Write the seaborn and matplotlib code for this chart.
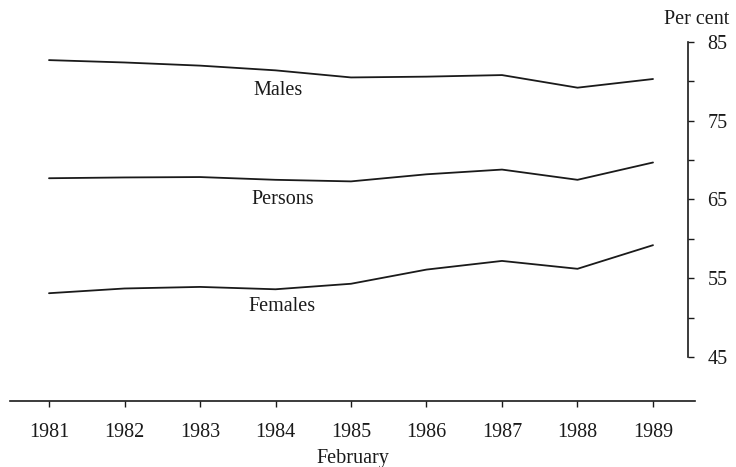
import matplotlib
matplotlib.use("Agg")
import matplotlib.pyplot as plt
import seaborn as sns
import pandas as pd

years = [1981, 1982, 1983, 1984, 1985, 1986, 1987, 1988, 1989]
males = [82.7, 82.4, 82.0, 81.4, 80.5, 80.6, 80.8, 79.2, 80.3]
persons = [67.7, 67.8, 67.85, 67.5, 67.3, 68.2, 68.8, 67.5, 69.7]
females = [53.1, 53.7, 53.9, 53.6, 54.3, 56.1, 57.2, 56.2, 59.2]
series_names = ["Males", "Persons", "Females"]
y_ticks_major = [45, 55, 65, 75, 85]
y_ticks_minor = [50, 60, 70, 80]

df = pd.DataFrame({
    "year": years * 3,
    "value": males + persons + females,
    "series": sum([[n] * len(years) for n in series_names], []),
})

sns.set_theme(style="white")
plt.rcParams["font.family"] = ["Liberation Serif", "DejaVu Serif"]

ink = "#1a1a1a"
fig = plt.figure(figsize=(7.36, 4.67), dpi=100)
ax = fig.add_axes([10 / 736, 66 / 467, 685 / 736, 401 / 467])

sns.lineplot(data=df, x="year", y="value", hue="series",
             palette={n: ink for n in series_names},
             linewidth=1.3, legend=False, ax=ax)

px = 75.5
py = 7.875
ax.set_xlim(1981 - 39 / px, 1989 + 42 / px)
ax.set_ylim(85 - (401 - 42) / py, 85 + 42 / py)

for s in ["top", "left"]:
    ax.spines[s].set_visible(False)
for s in ["bottom", "right"]:
    ax.spines[s].set_color(ink)
    ax.spines[s].set_linewidth(1.2)
ax.spines["right"].set_position(("axes", (688 - 10) / 685))
ax.spines["right"].set_bounds(45, 85)

ax.set_xticks(years)
ax.set_xticklabels([str(y) for y in years], fontsize=14.5, color=ink)
ax.tick_params(axis="x", direction="out", length=4, width=1, color=ink,
               pad=12, bottom=True)

ax.yaxis.tick_right()
ax.set_yticks(y_ticks_major)
ax.set_yticks(y_ticks_minor, minor=True)
ax.set_yticklabels([str(v) for v in y_ticks_major], fontsize=14.5, color=ink)
ax.tick_params(axis="y", which="both", direction="out", length=4, width=1,
               color=ink, pad=10, right=True, left=False)

ax.set_xlabel("February", fontsize=14.5, color=ink, labelpad=5)
ax.set_ylabel("")

ax.text(1984.03, 78.9, "Males", fontsize=14.5, ha="center", va="center", color=ink)
ax.text(1984.09, 64.94, "Persons", fontsize=14.5, ha="center", va="center", color=ink)
ax.text(1984.09, 51.35, "Females", fontsize=14.5, ha="center", va="center", color=ink)

fig.text(697 / 736, 1 - 20 / 467, "Per cent", fontsize=14.5, ha="center", va="center",
         color=ink)

fig.savefig("out.png", dpi=100)
